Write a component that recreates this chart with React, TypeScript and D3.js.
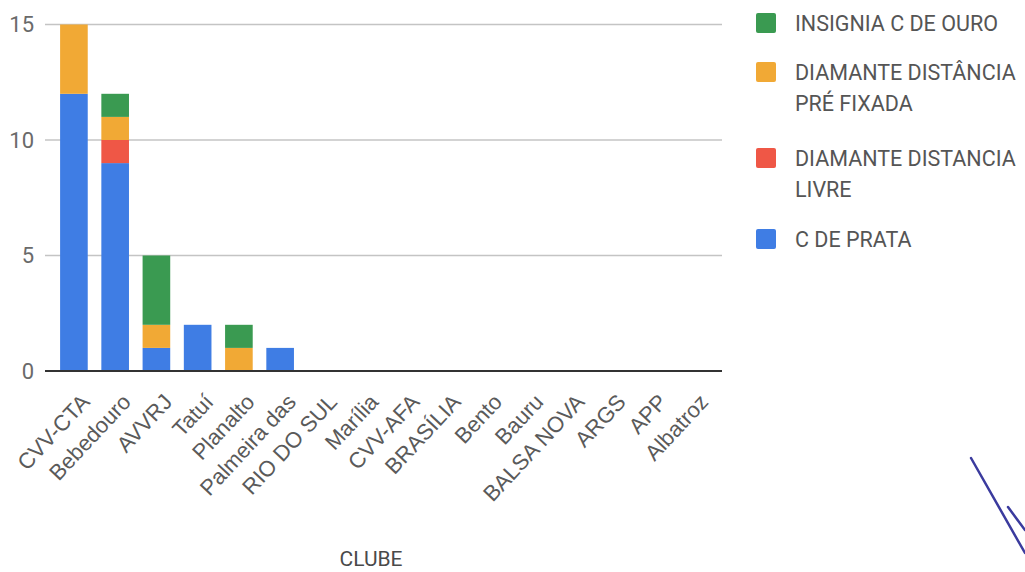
import React from "react";
import * as d3 from "d3";

const categories = [
  "CVV-CTA", "Bebedouro", "AVVRJ", "Tatuí", "Planalto", "Palmeira das", "RIO DO SUL", "Marília",
  "CVV-AFA", "BRASÍLIA", "Bento", "Bauru", "BALSA NOVA", "ARGS", "APP", "Albatroz",
];
const cDePrata = [12, 9, 1, 2, 0, 1, 0, 0, 0, 0, 0, 0, 0, 0, 0, 0];
const diamanteLivre = [0, 1, 0, 0, 0, 0, 0, 0, 0, 0, 0, 0, 0, 0, 0, 0];
const diamantePreFixada = [3, 1, 1, 0, 1, 0, 0, 0, 0, 0, 0, 0, 0, 0, 0, 0];
const insigniaOuro = [0, 1, 3, 0, 1, 0, 0, 0, 0, 0, 0, 0, 0, 0, 0, 0];
const yTicks = [0, 5, 10, 15];

const seriesKeys = ["prata", "livre", "pre", "ouro"];
const seriesColors: Record<string, string> = {
  prata: "#3f7de4",
  livre: "#ef5746",
  pre: "#f1a935",
  ouro: "#3a9a51",
};
const legendItems = [
  { key: "ouro", lines: ["INSIGNIA C DE OURO"] },
  { key: "pre", lines: ["DIAMANTE DISTÂNCIA", "PRÉ FIXADA"] },
  { key: "livre", lines: ["DIAMANTE DISTANCIA", "LIVRE"] },
  { key: "prata", lines: ["C DE PRATA"] },
];

export default function App() {
  const W = 1025, H = 572;
  const plotLeft = 45, plotRight = 722;
  const rows = categories.map((c, i) => ({
    cat: c,
    prata: cDePrata[i],
    livre: diamanteLivre[i],
    pre: diamantePreFixada[i],
    ouro: insigniaOuro[i],
  }));
  const x = d3.scaleBand<string>().domain(categories).range([53.5, 713]).paddingInner(0.33).paddingOuter(0.16);
  const y = d3.scaleLinear().domain([0, 15]).range([371, 24.5]);
  const stack = d3.stack<any>().keys(seriesKeys);
  const stacked = stack(rows);
  const legendY = [23, 72, 158, 239];

  return (
    <svg width={W} height={H} style={{ position: "absolute", left: 0, top: 0, background: "#fff" }}>
      <rect x={0} y={0} width={W} height={H} fill="#ffffff" />
      {yTicks.filter((t) => t !== 0).map((t) => (
        <line key={t} x1={plotLeft} x2={plotRight} y1={y(t)} y2={y(t)} stroke="#c4c4c4" strokeWidth={1.3} />
      ))}
      {yTicks.map((t) => (
        <text key={"t" + t} x={34} y={y(t)} dy="0.36em" textAnchor="end" fontFamily="Roboto" fontSize={22} fill="#6a6a6a">
          {t}
        </text>
      ))}
      {stacked.map((s) => (
        <g key={s.key} fill={seriesColors[s.key]}>
          {s.map((d, i) =>
            d[1] - d[0] > 0 ? (
              <rect key={i} x={x(categories[i])} width={x.bandwidth()} y={y(d[1])} height={y(d[0]) - y(d[1])} />
            ) : null
          )}
        </g>
      ))}
      <line x1={plotLeft} x2={plotRight} y1={y(0)} y2={y(0)} stroke="#333" strokeWidth={2} />
      {categories.map((c) => {
        const cx = (x(c) as number) + x.bandwidth() / 2 + 17;
        const cy = 403;
        return (
          <text key={c} x={cx} y={cy} transform={`rotate(-47 ${cx} ${cy})`} textAnchor="end" fontFamily="Liberation Sans, Arial" fontSize={22} fill="#5a5a5a">
            {c}
          </text>
        );
      })}
      <text x={371} y={566} textAnchor="middle" fontFamily="Roboto" fontSize={21} fill="#4a4a4a">
        CLUBE
      </text>
      {legendItems.map((it, i) => (
        <g key={it.key}>
          <rect x={756} y={legendY[i] - 10} width={20} height={20} rx={2} fill={seriesColors[it.key]} />
          {it.lines.map((ln, j) => (
            <text key={j} x={795} y={legendY[i] + j * 31} dy="0.36em" fontFamily="Roboto" fontSize={21.5} fill="#555">
              {ln}
            </text>
          ))}
        </g>
      ))}
      <g stroke="#3b3b9e" strokeWidth={2.5} fill="none" strokeLinecap="round">
        <path d="M971,458 L1025,553" />
        <path d="M1008,507 L1025,530" />
      </g>
    </svg>
  );
}
